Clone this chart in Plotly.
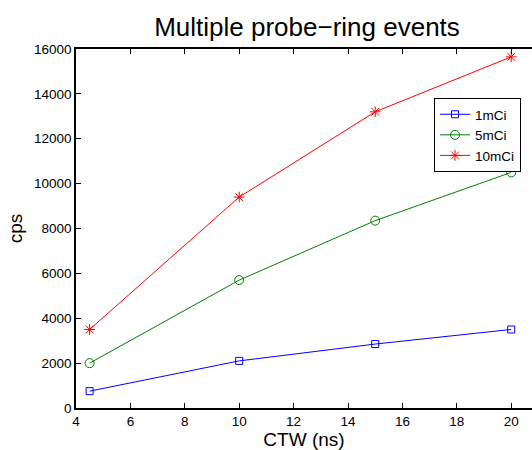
import plotly.graph_objects as go

# Coincidence time window (ns)
ctw = [4.5, 10, 15, 20]

# Count rates (cps) for each source activity
cps_1mci = [750, 2100, 2850, 3500]
cps_5mci = [2000, 5700, 8350, 10500]
cps_10mci = [3500, 9400, 13200, 15650]

x_ticks = [4, 6, 8, 10, 12, 14, 16, 18, 20]
y_ticks = [0, 2000, 4000, 6000, 8000, 10000, 12000, 14000, 16000]

series_names = ["1mCi", "5mCi", "10mCi"]
series_colors = ["#0000ff", "#008000", "#ff0000"]
series_symbols = ["square-open", "circle-open", "asterisk-open"]
series_sizes = [7, 9, 9]

fig = go.Figure()
for name, vals, col, sym, sz in zip(series_names, [cps_1mci, cps_5mci, cps_10mci],
                                     series_colors, series_symbols, series_sizes):
    fig.add_trace(go.Scatter(
        x=ctw, y=vals, name=name, mode="lines+markers",
        line=dict(color=col, width=1),
        marker=dict(symbol=sym, size=sz, color=col, line=dict(color=col, width=1)),
    ))

font_family = "Liberation Sans, Arial, Helvetica, sans-serif"

fig.update_layout(
    width=532, height=450,
    margin=dict(l=76, r=0, t=49, b=42),
    paper_bgcolor="white", plot_bgcolor="white",
    font=dict(family=font_family, color="black", size=13),
    title=dict(text="Multiple probe\u2212ring events", x=307 / 532, xanchor="center",
               y=1 - 27 / 450, yanchor="middle", font=dict(size=26)),
    showlegend=True,
    legend=dict(x=(434 - 76) / 456, y=(408 - 98) / 359, xanchor="left", yanchor="top",
                bordercolor="black", borderwidth=1, bgcolor="white",
                font=dict(size=13.5), itemwidth=30, tracegroupgap=0),
)

fig.update_xaxes(
    range=[4, 4 + 456 / 27.2], tickmode="array", tickvals=x_ticks,
    ticktext=[str(v) for v in x_ticks], tickfont=dict(size=13.5),
    ticks="inside", ticklen=5, tickcolor="black", showline=True, linecolor="black",
    linewidth=1.5, mirror="ticks", showgrid=False, zeroline=False,
    title=dict(text="CTW (ns)", font=dict(size=19), standoff=1),
)
fig.update_yaxes(
    range=[0, 16000], tickmode="array", tickvals=y_ticks,
    ticktext=[str(v) for v in y_ticks], tickfont=dict(size=13.5),
    ticks="inside", ticklen=5, tickcolor="black", showline=True, linecolor="black",
    linewidth=1.5, showgrid=False, zeroline=False,
    title=dict(text="cps", font=dict(size=19), standoff=6),
)

fig.write_html("out.html")
